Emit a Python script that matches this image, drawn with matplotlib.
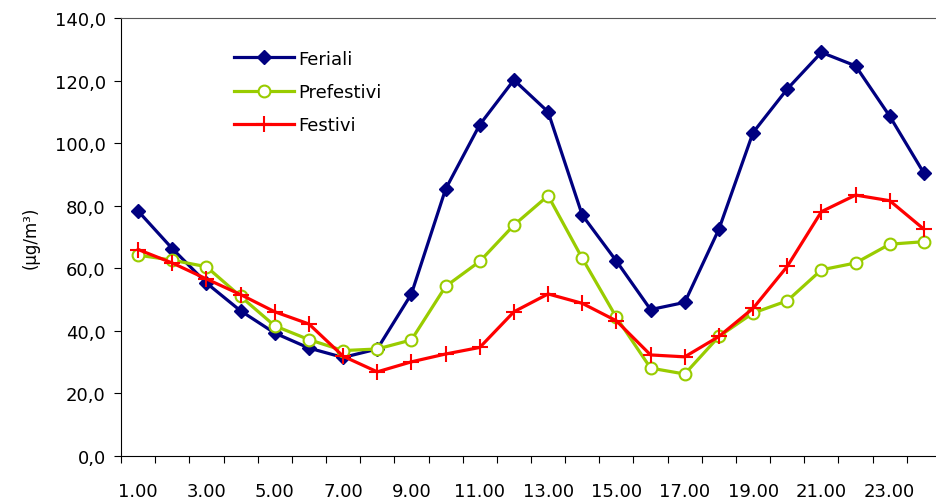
import matplotlib.pyplot as plt
from matplotlib.ticker import FuncFormatter

hours = list(range(1, 25))
hour_labels = ['%d.00' % h for h in hours]

feriali = [78.3, 66.3, 55.3, 46.4, 39.3, 34.5, 31.5, 34.2, 51.8, 85.3, 105.9, 120.2,
           110.0, 77.0, 62.3, 46.8, 49.1, 72.5, 103.4, 117.3, 129.0, 124.7, 108.6, 90.4]
prefestivi = [64.2, 62.6, 60.5, 51.0, 41.6, 37.2, 33.7, 34.2, 37.1, 54.2, 62.2, 73.8,
              83.2, 63.2, 44.3, 28.1, 26.2, 38.2, 45.7, 49.6, 59.5, 61.7, 67.7, 68.5]
festivi = [66.0, 61.7, 56.6, 51.6, 46.1, 42.2, 31.9, 26.9, 30.1, 32.6, 34.7, 46.1,
           51.8, 48.8, 43.2, 32.3, 31.7, 38.2, 47.2, 60.6, 78.1, 83.4, 81.6, 72.5]

plt.rcParams['font.family'] = 'DejaVu Sans'

fig = plt.figure(figsize=(9.37, 5.02), dpi=100)
ax = fig.add_axes([121 / 937, 45 / 502, 820 / 937, 438 / 502])

ax.plot(hours, feriali, color='#000080', lw=2.3, marker='D', ms=7.5,
        label='Feriali', clip_on=False, zorder=3)
ax.plot(hours, prefestivi, color='#99CC00', lw=2.3, marker='o', ms=8.5,
        mfc='white', mec='#99CC00', mew=1.5, label='Prefestivi', clip_on=False, zorder=3)
ax.plot(hours, festivi, color='#FF0000', lw=2.3, marker='+', ms=12, mew=1.5,
        label='Festivi', clip_on=False, zorder=3)

ax.set_xlim(0.5, 24.5)
ax.set_ylim(0, 140)
ax.set_yticks(range(0, 141, 20))
ax.yaxis.set_major_formatter(FuncFormatter(lambda v, p: ('%.1f' % v).replace('.', ',')))
ax.tick_params(axis='y', direction='out', length=5, labelsize=13, pad=6)

# tick marks between categories, labels on every other category
ax.set_xticks([h + 0.5 for h in range(0, 24)])
ax.set_xticklabels([])
ax.tick_params(axis='x', which='major', direction='out', length=5)
ax.set_xticks(hours[::2], minor=True)
ax.set_xticklabels(hour_labels[::2], minor=True)
ax.tick_params(axis='x', which='minor', length=0, labelsize=13, pad=19)

ax.set_ylabel('(µg/m³)', fontsize=12, labelpad=11)

ax.spines['right'].set_visible(False)
ax.spines['top'].set_color('#555555')
for s in ['left', 'bottom']:
    ax.spines[s].set_color('black')

ax.legend(loc='upper left', bbox_to_anchor=(0.118, 0.965), frameon=False, fontsize=13,
          handlelength=3.3, handletextpad=0.25, labelspacing=0.85)

fig.savefig('out.png', dpi=100)
